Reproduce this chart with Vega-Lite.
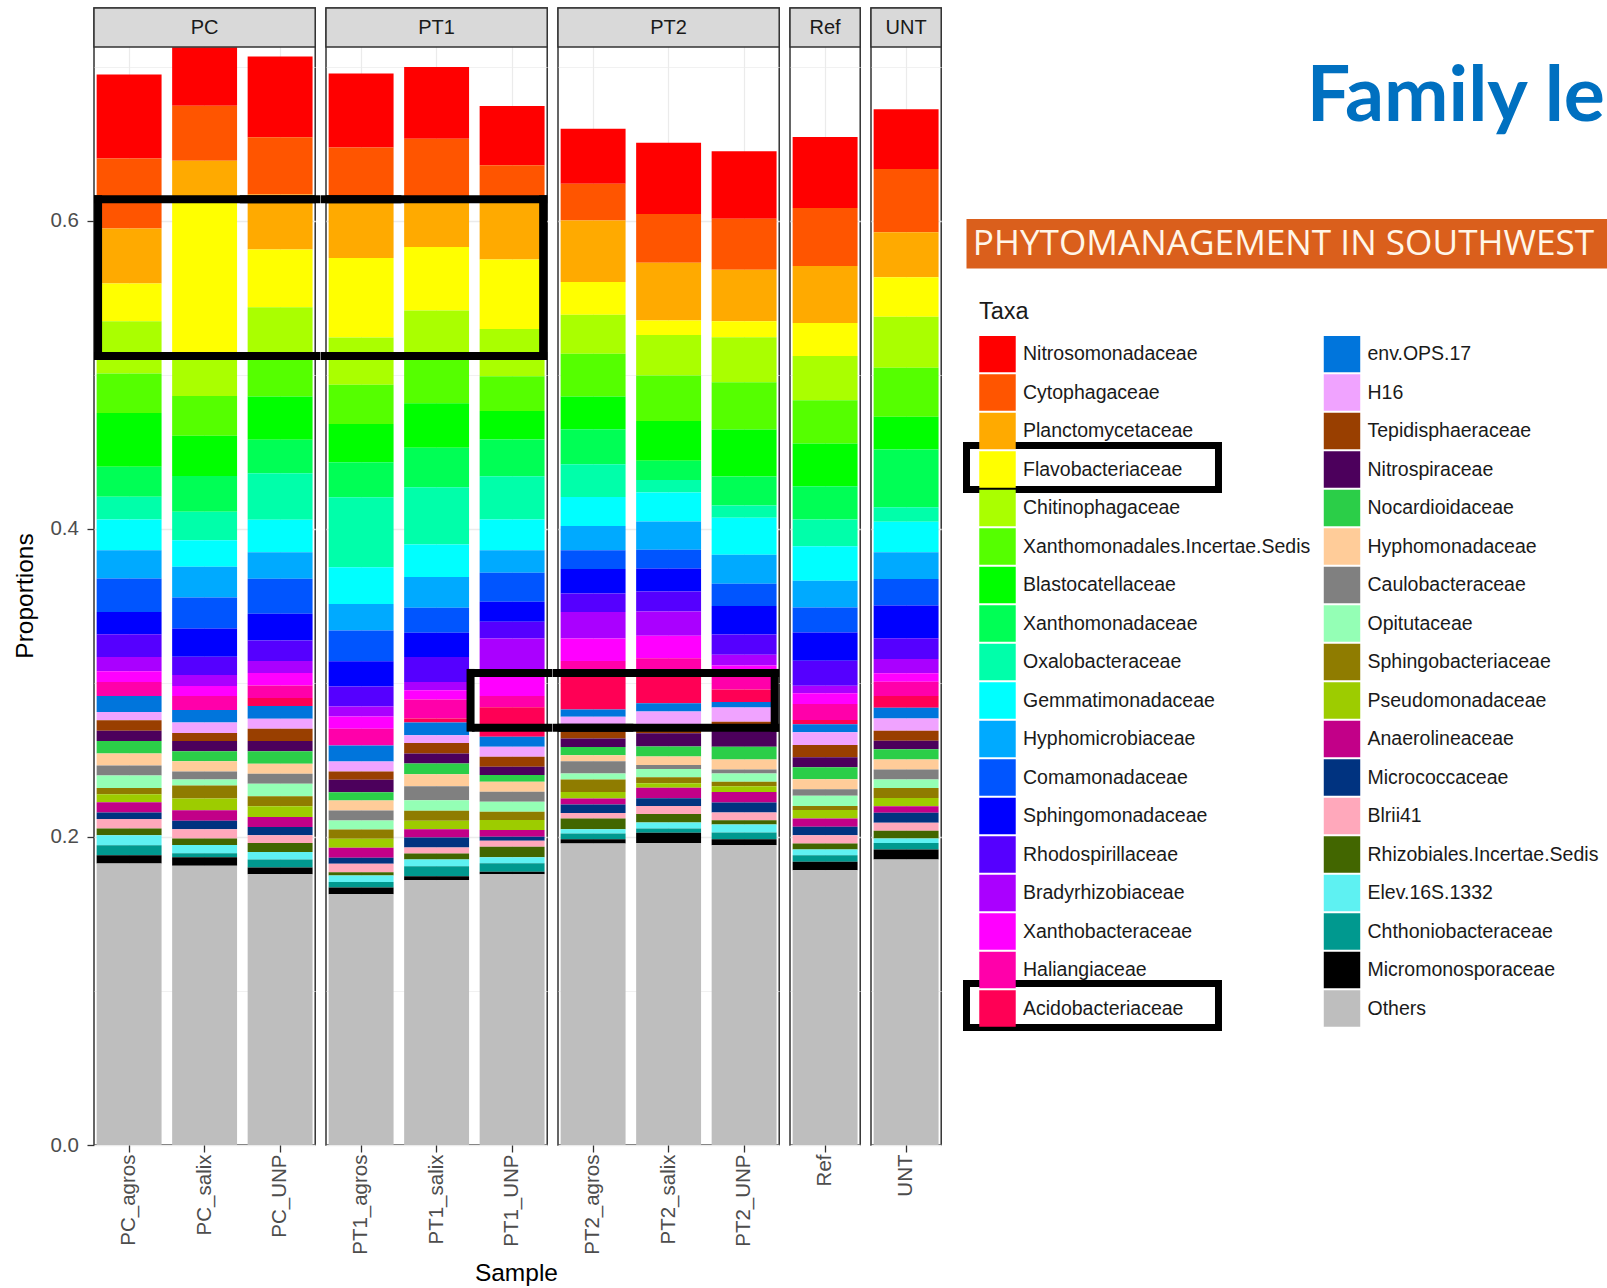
{
"$schema": "https://vega.github.io/schema/vega-lite/v6.json",
"padding": {"left": 12, "top": 6, "right": 0, "bottom": 0},
"autosize": {"type": "pad"},
"title": {"text": "Sample", "orient": "bottom", "anchor": "start", "dx": 462, "offset": 7, "fontSize": 24.5, "font": "Liberation Sans", "fontWeight": "normal", "color": "#000000", "baseline": "top"},
"config": {
 "font": "Liberation Sans",
 "view": {"stroke": "#333333", "strokeWidth": 1.5},
 "axis": {"domain": false, "gridColor": "#EBEBEB", "tickColor": "#333333", "labelColor": "#4D4D4D", "labelFont": "Liberation Sans", "titleFont": "Liberation Sans", "titleFontWeight": "normal", "titleColor": "#000000"},
 "axisX": {"labelAngle": -90, "labelFontSize": 20.5, "tickSize": 7, "labelPadding": 2, "grid": true, "gridWidth": 1.2, "bandPosition": 0.5, "tickWidth": 1.3},
 "axisY": {"labelFontSize": 20.5, "tickSize": 7, "labelPadding": 8.6, "titleFontSize": 24.5, "titlePadding": 12, "tickWidth": 1.3}
},
"datasets": {
 "taxa": [
  {"t":"Nitrosomonadaceae","rank":1},{"t":"Cytophagaceae","rank":2},{"t":"Planctomycetaceae","rank":3},{"t":"Flavobacteriaceae","rank":4},{"t":"Chitinophagaceae","rank":5},{"t":"Xanthomonadales.Incertae.Sedis","rank":6},{"t":"Blastocatellaceae","rank":7},{"t":"Xanthomonadaceae","rank":8},{"t":"Oxalobacteraceae","rank":9},{"t":"Gemmatimonadaceae","rank":10},{"t":"Hyphomicrobiaceae","rank":11},{"t":"Comamonadaceae","rank":12},{"t":"Sphingomonadaceae","rank":13},{"t":"Rhodospirillaceae","rank":14},{"t":"Bradyrhizobiaceae","rank":15},{"t":"Xanthobacteraceae","rank":16},{"t":"Haliangiaceae","rank":17},{"t":"Acidobacteriaceae","rank":18},{"t":"env.OPS.17","rank":19},{"t":"H16","rank":20},{"t":"Tepidisphaeraceae","rank":21},{"t":"Nitrospiraceae","rank":22},{"t":"Nocardioidaceae","rank":23},{"t":"Hyphomonadaceae","rank":24},{"t":"Caulobacteraceae","rank":25},{"t":"Opitutaceae","rank":26},{"t":"Sphingobacteriaceae","rank":27},{"t":"Pseudomonadaceae","rank":28},{"t":"Anaerolineaceae","rank":29},{"t":"Micrococcaceae","rank":30},{"t":"Blrii41","rank":31},{"t":"Rhizobiales.Incertae.Sedis","rank":32},{"t":"Elev.16S.1332","rank":33},{"t":"Chthoniobacteraceae","rank":34},{"t":"Micromonosporaceae","rank":35},{"t":"Others","rank":36}
 ],
 "samples": [
  {"s":"PC_agros","g":"PC"},{"s":"PC_salix","g":"PC"},{"s":"PC_UNP","g":"PC"},{"s":"PT1_agros","g":"PT1"},{"s":"PT1_salix","g":"PT1"},{"s":"PT1_UNP","g":"PT1"},{"s":"PT2_agros","g":"PT2"},{"s":"PT2_salix","g":"PT2"},{"s":"PT2_UNP","g":"PT2"},{"s":"Ref","g":"Ref"},{"s":"UNT","g":"UNT"}
 ],
 "bars": [
{"s":"PC_agros","t":"Nitrosomonadaceae","p":0.0545},{"s":"PC_agros","t":"Cytophagaceae","p":0.0454},{"s":"PC_agros","t":"Planctomycetaceae","p":0.0357},{"s":"PC_agros","t":"Flavobacteriaceae","p":0.0245},{"s":"PC_agros","t":"Chitinophagaceae","p":0.0339},{"s":"PC_agros","t":"Xanthomonadales.Incertae.Sedis","p":0.0256},{"s":"PC_agros","t":"Blastocatellaceae","p":0.0350},{"s":"PC_agros","t":"Xanthomonadaceae","p":0.0195},{"s":"PC_agros","t":"Oxalobacteraceae","p":0.0147},{"s":"PC_agros","t":"Gemmatimonadaceae","p":0.0199},{"s":"PC_agros","t":"Hyphomicrobiaceae","p":0.0184},{"s":"PC_agros","t":"Comamonadaceae","p":0.0217},{"s":"PC_agros","t":"Sphingomonadaceae","p":0.0145},{"s":"PC_agros","t":"Rhodospirillaceae","p":0.0147},{"s":"PC_agros","t":"Bradyrhizobiaceae","p":0.0093},{"s":"PC_agros","t":"Xanthobacteraceae","p":0.0069},{"s":"PC_agros","t":"Haliangiaceae","p":0.0091},{"s":"PC_agros","t":"Acidobacteriaceae","p":0},{"s":"PC_agros","t":"env.OPS.17","p":0.0104},{"s":"PC_agros","t":"H16","p":0.0054},{"s":"PC_agros","t":"Tepidisphaeraceae","p":0.0069},{"s":"PC_agros","t":"Nitrospiraceae","p":0.0065},{"s":"PC_agros","t":"Nocardioidaceae","p":0.0082},{"s":"PC_agros","t":"Hyphomonadaceae","p":0.0078},{"s":"PC_agros","t":"Caulobacteraceae","p":0.0065},{"s":"PC_agros","t":"Opitutaceae","p":0.0080},{"s":"PC_agros","t":"Sphingobacteriaceae","p":0.0041},{"s":"PC_agros","t":"Pseudomonadaceae","p":0.0052},{"s":"PC_agros","t":"Anaerolineaceae","p":0.0067},{"s":"PC_agros","t":"Micrococcaceae","p":0.0042},{"s":"PC_agros","t":"Blrii41","p":0.0062},{"s":"PC_agros","t":"Rhizobiales.Incertae.Sedis","p":0.0043},{"s":"PC_agros","t":"Elev.16S.1332","p":0.0065},{"s":"PC_agros","t":"Chthoniobacteraceae","p":0.0065},{"s":"PC_agros","t":"Micromonosporaceae","p":0.0054},{"s":"PC_agros","t":"Others","p":0.1827},
{"s":"PC_salix","t":"Nitrosomonadaceae","p":0.0379},{"s":"PC_salix","t":"Cytophagaceae","p":0.0357},{"s":"PC_salix","t":"Planctomycetaceae","p":0.0229},{"s":"PC_salix","t":"Flavobacteriaceae","p":0.1021},{"s":"PC_salix","t":"Chitinophagaceae","p":0.0277},{"s":"PC_salix","t":"Xanthomonadales.Incertae.Sedis","p":0.0258},{"s":"PC_salix","t":"Blastocatellaceae","p":0.0262},{"s":"PC_salix","t":"Xanthomonadaceae","p":0.0232},{"s":"PC_salix","t":"Oxalobacteraceae","p":0.0184},{"s":"PC_salix","t":"Gemmatimonadaceae","p":0.0173},{"s":"PC_salix","t":"Hyphomicrobiaceae","p":0.0199},{"s":"PC_salix","t":"Comamonadaceae","p":0.0201},{"s":"PC_salix","t":"Sphingomonadaceae","p":0.0184},{"s":"PC_salix","t":"Rhodospirillaceae","p":0.0119},{"s":"PC_salix","t":"Bradyrhizobiaceae","p":0.0071},{"s":"PC_salix","t":"Xanthobacteraceae","p":0.0065},{"s":"PC_salix","t":"Haliangiaceae","p":0.0091},{"s":"PC_salix","t":"Acidobacteriaceae","p":0},{"s":"PC_salix","t":"env.OPS.17","p":0.0080},{"s":"PC_salix","t":"H16","p":0.0068},{"s":"PC_salix","t":"Tepidisphaeraceae","p":0.0052},{"s":"PC_salix","t":"Nitrospiraceae","p":0.0067},{"s":"PC_salix","t":"Nocardioidaceae","p":0.0065},{"s":"PC_salix","t":"Hyphomonadaceae","p":0.0067},{"s":"PC_salix","t":"Caulobacteraceae","p":0.0052},{"s":"PC_salix","t":"Opitutaceae","p":0.0039},{"s":"PC_salix","t":"Sphingobacteriaceae","p":0.0084},{"s":"PC_salix","t":"Pseudomonadaceae","p":0.0076},{"s":"PC_salix","t":"Anaerolineaceae","p":0.0069},{"s":"PC_salix","t":"Micrococcaceae","p":0.0054},{"s":"PC_salix","t":"Blrii41","p":0.0060},{"s":"PC_salix","t":"Rhizobiales.Incertae.Sedis","p":0.0043},{"s":"PC_salix","t":"Elev.16S.1332","p":0.0054},{"s":"PC_salix","t":"Chthoniobacteraceae","p":0.0026},{"s":"PC_salix","t":"Micromonosporaceae","p":0.0055},{"s":"PC_salix","t":"Others","p":0.1812},
{"s":"PC_UNP","t":"Nitrosomonadaceae","p":0.0524},{"s":"PC_UNP","t":"Cytophagaceae","p":0.0372},{"s":"PC_UNP","t":"Planctomycetaceae","p":0.0357},{"s":"PC_UNP","t":"Flavobacteriaceae","p":0.0374},{"s":"PC_UNP","t":"Chitinophagaceae","p":0.0320},{"s":"PC_UNP","t":"Xanthomonadales.Incertae.Sedis","p":0.0260},{"s":"PC_UNP","t":"Blastocatellaceae","p":0.0281},{"s":"PC_UNP","t":"Xanthomonadaceae","p":0.0217},{"s":"PC_UNP","t":"Oxalobacteraceae","p":0.0302},{"s":"PC_UNP","t":"Gemmatimonadaceae","p":0.0210},{"s":"PC_UNP","t":"Hyphomicrobiaceae","p":0.0173},{"s":"PC_UNP","t":"Comamonadaceae","p":0.0227},{"s":"PC_UNP","t":"Sphingomonadaceae","p":0.0173},{"s":"PC_UNP","t":"Rhodospirillaceae","p":0.0134},{"s":"PC_UNP","t":"Bradyrhizobiaceae","p":0.0078},{"s":"PC_UNP","t":"Xanthobacteraceae","p":0.0080},{"s":"PC_UNP","t":"Haliangiaceae","p":0.0082},{"s":"PC_UNP","t":"Acidobacteriaceae","p":0.0052},{"s":"PC_UNP","t":"env.OPS.17","p":0.0082},{"s":"PC_UNP","t":"H16","p":0.0065},{"s":"PC_UNP","t":"Tepidisphaeraceae","p":0.0080},{"s":"PC_UNP","t":"Nitrospiraceae","p":0.0067},{"s":"PC_UNP","t":"Nocardioidaceae","p":0.0080},{"s":"PC_UNP","t":"Hyphomonadaceae","p":0.0065},{"s":"PC_UNP","t":"Caulobacteraceae","p":0.0065},{"s":"PC_UNP","t":"Opitutaceae","p":0.0082},{"s":"PC_UNP","t":"Sphingobacteriaceae","p":0.0065},{"s":"PC_UNP","t":"Pseudomonadaceae","p":0.0069},{"s":"PC_UNP","t":"Anaerolineaceae","p":0.0065},{"s":"PC_UNP","t":"Micrococcaceae","p":0.0054},{"s":"PC_UNP","t":"Blrii41","p":0.0050},{"s":"PC_UNP","t":"Rhizobiales.Incertae.Sedis","p":0.0058},{"s":"PC_UNP","t":"Elev.16S.1332","p":0.0049},{"s":"PC_UNP","t":"Chthoniobacteraceae","p":0.0052},{"s":"PC_UNP","t":"Micromonosporaceae","p":0.0043},{"s":"PC_UNP","t":"Others","p":0.1758},
{"s":"PT1_agros","t":"Nitrosomonadaceae","p":0.0480},{"s":"PT1_agros","t":"Cytophagaceae","p":0.0357},{"s":"PT1_agros","t":"Planctomycetaceae","p":0.0361},{"s":"PT1_agros","t":"Flavobacteriaceae","p":0.0515},{"s":"PT1_agros","t":"Chitinophagaceae","p":0.0307},{"s":"PT1_agros","t":"Xanthomonadales.Incertae.Sedis","p":0.0255},{"s":"PT1_agros","t":"Blastocatellaceae","p":0.0249},{"s":"PT1_agros","t":"Xanthomonadaceae","p":0.0227},{"s":"PT1_agros","t":"Oxalobacteraceae","p":0.0454},{"s":"PT1_agros","t":"Gemmatimonadaceae","p":0.0238},{"s":"PT1_agros","t":"Hyphomicrobiaceae","p":0.0173},{"s":"PT1_agros","t":"Comamonadaceae","p":0.0199},{"s":"PT1_agros","t":"Sphingomonadaceae","p":0.0164},{"s":"PT1_agros","t":"Rhodospirillaceae","p":0.0130},{"s":"PT1_agros","t":"Bradyrhizobiaceae","p":0.0065},{"s":"PT1_agros","t":"Xanthobacteraceae","p":0.0080},{"s":"PT1_agros","t":"Haliangiaceae","p":0.0108},{"s":"PT1_agros","t":"Acidobacteriaceae","p":0},{"s":"PT1_agros","t":"env.OPS.17","p":0.0104},{"s":"PT1_agros","t":"H16","p":0.0065},{"s":"PT1_agros","t":"Tepidisphaeraceae","p":0.0054},{"s":"PT1_agros","t":"Nitrospiraceae","p":0.0080},{"s":"PT1_agros","t":"Nocardioidaceae","p":0.0054},{"s":"PT1_agros","t":"Hyphomonadaceae","p":0.0065},{"s":"PT1_agros","t":"Caulobacteraceae","p":0.0065},{"s":"PT1_agros","t":"Opitutaceae","p":0.0058},{"s":"PT1_agros","t":"Sphingobacteriaceae","p":0.0060},{"s":"PT1_agros","t":"Pseudomonadaceae","p":0.0058},{"s":"PT1_agros","t":"Anaerolineaceae","p":0.0065},{"s":"PT1_agros","t":"Micrococcaceae","p":0.0039},{"s":"PT1_agros","t":"Blrii41","p":0.0055},{"s":"PT1_agros","t":"Rhizobiales.Incertae.Sedis","p":0.0021},{"s":"PT1_agros","t":"Elev.16S.1332","p":0.0043},{"s":"PT1_agros","t":"Chthoniobacteraceae","p":0.0036},{"s":"PT1_agros","t":"Micromonosporaceae","p":0.0043},{"s":"PT1_agros","t":"Others","p":0.1628},
{"s":"PT1_salix","t":"Nitrosomonadaceae","p":0.0465},{"s":"PT1_salix","t":"Cytophagaceae","p":0.0412},{"s":"PT1_salix","t":"Planctomycetaceae","p":0.0292},{"s":"PT1_salix","t":"Flavobacteriaceae","p":0.0411},{"s":"PT1_salix","t":"Chitinophagaceae","p":0.0292},{"s":"PT1_salix","t":"Xanthomonadales.Incertae.Sedis","p":0.0310},{"s":"PT1_salix","t":"Blastocatellaceae","p":0.0289},{"s":"PT1_salix","t":"Xanthomonadaceae","p":0.0256},{"s":"PT1_salix","t":"Oxalobacteraceae","p":0.0372},{"s":"PT1_salix","t":"Gemmatimonadaceae","p":0.0212},{"s":"PT1_salix","t":"Hyphomicrobiaceae","p":0.0199},{"s":"PT1_salix","t":"Comamonadaceae","p":0.0162},{"s":"PT1_salix","t":"Sphingomonadaceae","p":0.0158},{"s":"PT1_salix","t":"Rhodospirillaceae","p":0.0162},{"s":"PT1_salix","t":"Bradyrhizobiaceae","p":0.0054},{"s":"PT1_salix","t":"Xanthobacteraceae","p":0.0060},{"s":"PT1_salix","t":"Haliangiaceae","p":0.0123},{"s":"PT1_salix","t":"Acidobacteriaceae","p":0.0026},{"s":"PT1_salix","t":"env.OPS.17","p":0.0082},{"s":"PT1_salix","t":"H16","p":0.0050},{"s":"PT1_salix","t":"Tepidisphaeraceae","p":0.0069},{"s":"PT1_salix","t":"Nitrospiraceae","p":0.0065},{"s":"PT1_salix","t":"Nocardioidaceae","p":0.0069},{"s":"PT1_salix","t":"Hyphomonadaceae","p":0.0078},{"s":"PT1_salix","t":"Caulobacteraceae","p":0.0091},{"s":"PT1_salix","t":"Opitutaceae","p":0.0069},{"s":"PT1_salix","t":"Sphingobacteriaceae","p":0.0065},{"s":"PT1_salix","t":"Pseudomonadaceae","p":0.0054},{"s":"PT1_salix","t":"Anaerolineaceae","p":0.0054},{"s":"PT1_salix","t":"Micrococcaceae","p":0.0065},{"s":"PT1_salix","t":"Blrii41","p":0.0039},{"s":"PT1_salix","t":"Rhizobiales.Incertae.Sedis","p":0.0039},{"s":"PT1_salix","t":"Elev.16S.1332","p":0.0043},{"s":"PT1_salix","t":"Chthoniobacteraceae","p":0.0065},{"s":"PT1_salix","t":"Micromonosporaceae","p":0.0026},{"s":"PT1_salix","t":"Others","p":0.1719},
{"s":"PT1_UNP","t":"Nitrosomonadaceae","p":0.0385},{"s":"PT1_UNP","t":"Cytophagaceae","p":0.0232},{"s":"PT1_UNP","t":"Planctomycetaceae","p":0.0380},{"s":"PT1_UNP","t":"Flavobacteriaceae","p":0.0450},{"s":"PT1_UNP","t":"Chitinophagaceae","p":0.0307},{"s":"PT1_UNP","t":"Xanthomonadales.Incertae.Sedis","p":0.0225},{"s":"PT1_UNP","t":"Blastocatellaceae","p":0.0186},{"s":"PT1_UNP","t":"Xanthomonadaceae","p":0.0238},{"s":"PT1_UNP","t":"Oxalobacteraceae","p":0.0281},{"s":"PT1_UNP","t":"Gemmatimonadaceae","p":0.0199},{"s":"PT1_UNP","t":"Hyphomicrobiaceae","p":0.0147},{"s":"PT1_UNP","t":"Comamonadaceae","p":0.0188},{"s":"PT1_UNP","t":"Sphingomonadaceae","p":0.0130},{"s":"PT1_UNP","t":"Rhodospirillaceae","p":0.0108},{"s":"PT1_UNP","t":"Bradyrhizobiaceae","p":0.0223},{"s":"PT1_UNP","t":"Xanthobacteraceae","p":0.0151},{"s":"PT1_UNP","t":"Haliangiaceae","p":0.0073},{"s":"PT1_UNP","t":"Acidobacteriaceae","p":0.0191},{"s":"PT1_UNP","t":"env.OPS.17","p":0.0065},{"s":"PT1_UNP","t":"H16","p":0.0065},{"s":"PT1_UNP","t":"Tepidisphaeraceae","p":0.0065},{"s":"PT1_UNP","t":"Nitrospiraceae","p":0.0054},{"s":"PT1_UNP","t":"Nocardioidaceae","p":0.0043},{"s":"PT1_UNP","t":"Hyphomonadaceae","p":0.0065},{"s":"PT1_UNP","t":"Caulobacteraceae","p":0.0065},{"s":"PT1_UNP","t":"Opitutaceae","p":0.0065},{"s":"PT1_UNP","t":"Sphingobacteriaceae","p":0.0054},{"s":"PT1_UNP","t":"Pseudomonadaceae","p":0.0065},{"s":"PT1_UNP","t":"Anaerolineaceae","p":0.0043},{"s":"PT1_UNP","t":"Micrococcaceae","p":0.0026},{"s":"PT1_UNP","t":"Blrii41","p":0.0039},{"s":"PT1_UNP","t":"Rhizobiales.Incertae.Sedis","p":0.0069},{"s":"PT1_UNP","t":"Elev.16S.1332","p":0.0039},{"s":"PT1_UNP","t":"Chthoniobacteraceae","p":0.0055},{"s":"PT1_UNP","t":"Micromonosporaceae","p":0.0015},{"s":"PT1_UNP","t":"Others","p":0.1758},
{"s":"PT2_agros","t":"Nitrosomonadaceae","p":0.0357},{"s":"PT2_agros","t":"Cytophagaceae","p":0.0238},{"s":"PT2_agros","t":"Planctomycetaceae","p":0.0400},{"s":"PT2_agros","t":"Flavobacteriaceae","p":0.0212},{"s":"PT2_agros","t":"Chitinophagaceae","p":0.0253},{"s":"PT2_agros","t":"Xanthomonadales.Incertae.Sedis","p":0.0277},{"s":"PT2_agros","t":"Blastocatellaceae","p":0.0214},{"s":"PT2_agros","t":"Xanthomonadaceae","p":0.0227},{"s":"PT2_agros","t":"Oxalobacteraceae","p":0.0212},{"s":"PT2_agros","t":"Gemmatimonadaceae","p":0.0188},{"s":"PT2_agros","t":"Hyphomicrobiaceae","p":0.0158},{"s":"PT2_agros","t":"Comamonadaceae","p":0.0121},{"s":"PT2_agros","t":"Sphingomonadaceae","p":0.0160},{"s":"PT2_agros","t":"Rhodospirillaceae","p":0.0119},{"s":"PT2_agros","t":"Bradyrhizobiaceae","p":0.0173},{"s":"PT2_agros","t":"Xanthobacteraceae","p":0.0145},{"s":"PT2_agros","t":"Haliangiaceae","p":0.0071},{"s":"PT2_agros","t":"Acidobacteriaceae","p":0.0244},{"s":"PT2_agros","t":"env.OPS.17","p":0.0048},{"s":"PT2_agros","t":"H16","p":0.0065},{"s":"PT2_agros","t":"Tepidisphaeraceae","p":0.0075},{"s":"PT2_agros","t":"Nitrospiraceae","p":0.0055},{"s":"PT2_agros","t":"Nocardioidaceae","p":0.0054},{"s":"PT2_agros","t":"Hyphomonadaceae","p":0.0039},{"s":"PT2_agros","t":"Caulobacteraceae","p":0.0080},{"s":"PT2_agros","t":"Opitutaceae","p":0.0039},{"s":"PT2_agros","t":"Sphingobacteriaceae","p":0.0080},{"s":"PT2_agros","t":"Pseudomonadaceae","p":0.0043},{"s":"PT2_agros","t":"Anaerolineaceae","p":0.0039},{"s":"PT2_agros","t":"Micrococcaceae","p":0.0055},{"s":"PT2_agros","t":"Blrii41","p":0.0036},{"s":"PT2_agros","t":"Rhizobiales.Incertae.Sedis","p":0.0069},{"s":"PT2_agros","t":"Elev.16S.1332","p":0.0028},{"s":"PT2_agros","t":"Chthoniobacteraceae","p":0.0037},{"s":"PT2_agros","t":"Micromonosporaceae","p":0.0028},{"s":"PT2_agros","t":"Others","p":0.1957},
{"s":"PT2_salix","t":"Nitrosomonadaceae","p":0.0463},{"s":"PT2_salix","t":"Cytophagaceae","p":0.0316},{"s":"PT2_salix","t":"Planctomycetaceae","p":0.0376},{"s":"PT2_salix","t":"Flavobacteriaceae","p":0.0093},{"s":"PT2_salix","t":"Chitinophagaceae","p":0.0264},{"s":"PT2_salix","t":"Xanthomonadales.Incertae.Sedis","p":0.0294},{"s":"PT2_salix","t":"Blastocatellaceae","p":0.0258},{"s":"PT2_salix","t":"Xanthomonadaceae","p":0.0125},{"s":"PT2_salix","t":"Oxalobacteraceae","p":0.0082},{"s":"PT2_salix","t":"Gemmatimonadaceae","p":0.0188},{"s":"PT2_salix","t":"Hyphomicrobiaceae","p":0.0184},{"s":"PT2_salix","t":"Comamonadaceae","p":0.0121},{"s":"PT2_salix","t":"Sphingomonadaceae","p":0.0149},{"s":"PT2_salix","t":"Rhodospirillaceae","p":0.0130},{"s":"PT2_salix","t":"Bradyrhizobiaceae","p":0.0158},{"s":"PT2_salix","t":"Xanthobacteraceae","p":0.0145},{"s":"PT2_salix","t":"Haliangiaceae","p":0.0082},{"s":"PT2_salix","t":"Acidobacteriaceae","p":0.0210},{"s":"PT2_salix","t":"env.OPS.17","p":0.0055},{"s":"PT2_salix","t":"H16","p":0.0080},{"s":"PT2_salix","t":"Tepidisphaeraceae","p":0.0060},{"s":"PT2_salix","t":"Nitrospiraceae","p":0.0087},{"s":"PT2_salix","t":"Nocardioidaceae","p":0.0065},{"s":"PT2_salix","t":"Hyphomonadaceae","p":0.0054},{"s":"PT2_salix","t":"Caulobacteraceae","p":0.0026},{"s":"PT2_salix","t":"Opitutaceae","p":0.0054},{"s":"PT2_salix","t":"Sphingobacteriaceae","p":0.0039},{"s":"PT2_salix","t":"Pseudomonadaceae","p":0.0029},{"s":"PT2_salix","t":"Anaerolineaceae","p":0.0069},{"s":"PT2_salix","t":"Micrococcaceae","p":0.0050},{"s":"PT2_salix","t":"Blrii41","p":0.0052},{"s":"PT2_salix","t":"Rhizobiales.Incertae.Sedis","p":0.0054},{"s":"PT2_salix","t":"Elev.16S.1332","p":0.0039},{"s":"PT2_salix","t":"Chthoniobacteraceae","p":0.0029},{"s":"PT2_salix","t":"Micromonosporaceae","p":0.0065},{"s":"PT2_salix","t":"Others","p":0.1961},
{"s":"PT2_UNP","t":"Nitrosomonadaceae","p":0.0439},{"s":"PT2_UNP","t":"Cytophagaceae","p":0.0331},{"s":"PT2_UNP","t":"Planctomycetaceae","p":0.0334},{"s":"PT2_UNP","t":"Flavobacteriaceae","p":0.0104},{"s":"PT2_UNP","t":"Chitinophagaceae","p":0.0292},{"s":"PT2_UNP","t":"Xanthomonadales.Incertae.Sedis","p":0.0307},{"s":"PT2_UNP","t":"Blastocatellaceae","p":0.0305},{"s":"PT2_UNP","t":"Xanthomonadaceae","p":0.0188},{"s":"PT2_UNP","t":"Oxalobacteraceae","p":0.0080},{"s":"PT2_UNP","t":"Gemmatimonadaceae","p":0.0240},{"s":"PT2_UNP","t":"Hyphomicrobiaceae","p":0.0188},{"s":"PT2_UNP","t":"Comamonadaceae","p":0.0145},{"s":"PT2_UNP","t":"Sphingomonadaceae","p":0.0184},{"s":"PT2_UNP","t":"Rhodospirillaceae","p":0.0132},{"s":"PT2_UNP","t":"Bradyrhizobiaceae","p":0.0069},{"s":"PT2_UNP","t":"Xanthobacteraceae","p":0.0043},{"s":"PT2_UNP","t":"Haliangiaceae","p":0.0114},{"s":"PT2_UNP","t":"Acidobacteriaceae","p":0.0080},{"s":"PT2_UNP","t":"env.OPS.17","p":0.0036},{"s":"PT2_UNP","t":"H16","p":0.0093},{"s":"PT2_UNP","t":"Tepidisphaeraceae","p":0.0054},{"s":"PT2_UNP","t":"Nitrospiraceae","p":0.0108},{"s":"PT2_UNP","t":"Nocardioidaceae","p":0.0082},{"s":"PT2_UNP","t":"Hyphomonadaceae","p":0.0065},{"s":"PT2_UNP","t":"Caulobacteraceae","p":0.0026},{"s":"PT2_UNP","t":"Opitutaceae","p":0.0055},{"s":"PT2_UNP","t":"Sphingobacteriaceae","p":0.0028},{"s":"PT2_UNP","t":"Pseudomonadaceae","p":0.0037},{"s":"PT2_UNP","t":"Anaerolineaceae","p":0.0069},{"s":"PT2_UNP","t":"Micrococcaceae","p":0.0065},{"s":"PT2_UNP","t":"Blrii41","p":0.0050},{"s":"PT2_UNP","t":"Rhizobiales.Incertae.Sedis","p":0.0028},{"s":"PT2_UNP","t":"Elev.16S.1332","p":0.0052},{"s":"PT2_UNP","t":"Chthoniobacteraceae","p":0.0043},{"s":"PT2_UNP","t":"Micromonosporaceae","p":0.0039},{"s":"PT2_UNP","t":"Others","p":0.1946},
{"s":"Ref","t":"Nitrosomonadaceae","p":0.0461},{"s":"Ref","t":"Cytophagaceae","p":0.0376},{"s":"Ref","t":"Planctomycetaceae","p":0.0370},{"s":"Ref","t":"Flavobacteriaceae","p":0.0214},{"s":"Ref","t":"Chitinophagaceae","p":0.0288},{"s":"Ref","t":"Xanthomonadales.Incertae.Sedis","p":0.0281},{"s":"Ref","t":"Blastocatellaceae","p":0.0277},{"s":"Ref","t":"Xanthomonadaceae","p":0.0216},{"s":"Ref","t":"Oxalobacteraceae","p":0.0173},{"s":"Ref","t":"Gemmatimonadaceae","p":0.0225},{"s":"Ref","t":"Hyphomicrobiaceae","p":0.0173},{"s":"Ref","t":"Comamonadaceae","p":0.0162},{"s":"Ref","t":"Sphingomonadaceae","p":0.0184},{"s":"Ref","t":"Rhodospirillaceae","p":0.0162},{"s":"Ref","t":"Bradyrhizobiaceae","p":0.0049},{"s":"Ref","t":"Xanthobacteraceae","p":0.0069},{"s":"Ref","t":"Haliangiaceae","p":0.0104},{"s":"Ref","t":"Acidobacteriaceae","p":0.0028},{"s":"Ref","t":"env.OPS.17","p":0.0052},{"s":"Ref","t":"H16","p":0.0082},{"s":"Ref","t":"Tepidisphaeraceae","p":0.0080},{"s":"Ref","t":"Nitrospiraceae","p":0.0065},{"s":"Ref","t":"Nocardioidaceae","p":0.0078},{"s":"Ref","t":"Hyphomonadaceae","p":0.0065},{"s":"Ref","t":"Caulobacteraceae","p":0.0042},{"s":"Ref","t":"Opitutaceae","p":0.0067},{"s":"Ref","t":"Sphingobacteriaceae","p":0.0026},{"s":"Ref","t":"Pseudomonadaceae","p":0.0054},{"s":"Ref","t":"Anaerolineaceae","p":0.0055},{"s":"Ref","t":"Micrococcaceae","p":0.0054},{"s":"Ref","t":"Blrii41","p":0.0054},{"s":"Ref","t":"Rhizobiales.Incertae.Sedis","p":0.0039},{"s":"Ref","t":"Elev.16S.1332","p":0.0037},{"s":"Ref","t":"Chthoniobacteraceae","p":0.0043},{"s":"Ref","t":"Micromonosporaceae","p":0.0054},{"s":"Ref","t":"Others","p":0.1784},
{"s":"UNT","t":"Nitrosomonadaceae","p":0.0387},{"s":"UNT","t":"Cytophagaceae","p":0.0411},{"s":"UNT","t":"Planctomycetaceae","p":0.0292},{"s":"UNT","t":"Flavobacteriaceae","p":0.0256},{"s":"UNT","t":"Chitinophagaceae","p":0.0331},{"s":"UNT","t":"Xanthomonadales.Incertae.Sedis","p":0.0318},{"s":"UNT","t":"Blastocatellaceae","p":0.0212},{"s":"UNT","t":"Xanthomonadaceae","p":0.0376},{"s":"UNT","t":"Oxalobacteraceae","p":0.0093},{"s":"UNT","t":"Gemmatimonadaceae","p":0.0199},{"s":"UNT","t":"Hyphomicrobiaceae","p":0.0173},{"s":"UNT","t":"Comamonadaceae","p":0.0173},{"s":"UNT","t":"Sphingomonadaceae","p":0.0212},{"s":"UNT","t":"Rhodospirillaceae","p":0.0134},{"s":"UNT","t":"Bradyrhizobiaceae","p":0.0093},{"s":"UNT","t":"Xanthobacteraceae","p":0.0055},{"s":"UNT","t":"Haliangiaceae","p":0.0093},{"s":"UNT","t":"Acidobacteriaceae","p":0.0076},{"s":"UNT","t":"env.OPS.17","p":0.0069},{"s":"UNT","t":"H16","p":0.0080},{"s":"UNT","t":"Tepidisphaeraceae","p":0.0065},{"s":"UNT","t":"Nitrospiraceae","p":0.0056},{"s":"UNT","t":"Nocardioidaceae","p":0.0065},{"s":"UNT","t":"Hyphomonadaceae","p":0.0065},{"s":"UNT","t":"Caulobacteraceae","p":0.0065},{"s":"UNT","t":"Opitutaceae","p":0.0055},{"s":"UNT","t":"Sphingobacteriaceae","p":0.0065},{"s":"UNT","t":"Pseudomonadaceae","p":0.0054},{"s":"UNT","t":"Anaerolineaceae","p":0.0043},{"s":"UNT","t":"Micrococcaceae","p":0.0065},{"s":"UNT","t":"Blrii41","p":0.0052},{"s":"UNT","t":"Rhizobiales.Incertae.Sedis","p":0.0049},{"s":"UNT","t":"Elev.16S.1332","p":0.0029},{"s":"UNT","t":"Chthoniobacteraceae","p":0.0043},{"s":"UNT","t":"Micromonosporaceae","p":0.0065},{"s":"UNT","t":"Others","p":0.1853}
 ]
},
"spacing": 19.5,
"resolve": {"scale": {"x": "independent", "y": "independent"}},
"hconcat": [
 {
  "data": {"name": "bars"},
  "transform": [
   {"lookup": "t", "from": {"data": {"name": "taxa"}, "key": "t", "fields": ["rank"]}},
   {"lookup": "s", "from": {"data": {"name": "samples"}, "key": "s", "fields": ["g"]}}
  ],
  "facet": {"column": {"field": "g", "type": "nominal", "sort": ["PC","PT1","PT2","Ref","UNT"], "title": null, "header": {"labels": false}}},
  "spacing": 10,
  "bounds": "flush",
  "resolve": {"scale": {"x": "independent"}},
  "spec": {
   "width": {"step": 75.5},
   "height": 1137,
   "layer": [
    {"mark": {"type": "bar"},
     "encoding": {
      "x": {"field": "s", "type": "nominal", "sort": ["PC_agros","PC_salix","PC_UNP","PT1_agros","PT1_salix","PT1_UNP","PT2_agros","PT2_salix","PT2_UNP","Ref","UNT"], "scale": {"type": "band", "paddingInner": 0.14, "paddingOuter": 0.035}, "title": null},
      "y": {"field": "p", "type": "quantitative", "stack": "zero", "scale": {"domain": [0, 0.738], "nice": false},
       "axis": {"title": "Proportions", "values": [0,0.1,0.2,0.3,0.4,0.5,0.6,0.7], "labelExpr": "round(datum.value*10) % 2 == 0 ? format(datum.value, '.1f') : ''", "tickOpacity": {"condition": {"test": "round(datum.value*10) % 2 == 1", "value": 0}, "value": 1}, "gridWidth": {"condition": {"test": "round(datum.value*10) % 2 == 1", "value": 0.7}, "value": 1.4}, "titleY": 587.5}},
      "color": {"field": "t", "type": "nominal",
       "scale": {
        "domain": ["Nitrosomonadaceae","Cytophagaceae","Planctomycetaceae","Flavobacteriaceae","Chitinophagaceae","Xanthomonadales.Incertae.Sedis","Blastocatellaceae","Xanthomonadaceae","Oxalobacteraceae","Gemmatimonadaceae","Hyphomicrobiaceae","Comamonadaceae","Sphingomonadaceae","Rhodospirillaceae","Bradyrhizobiaceae","Xanthobacteraceae","Haliangiaceae","Acidobacteriaceae","env.OPS.17","H16","Tepidisphaeraceae","Nitrospiraceae","Nocardioidaceae","Hyphomonadaceae","Caulobacteraceae","Opitutaceae","Sphingobacteriaceae","Pseudomonadaceae","Anaerolineaceae","Micrococcaceae","Blrii41","Rhizobiales.Incertae.Sedis","Elev.16S.1332","Chthoniobacteraceae","Micromonosporaceae","Others"],
        "range": ["#FF0000","#FF5500","#FFAA00","#FFFF00","#AAFF00","#55FF00","#00FF00","#00FF55","#00FFAA","#00FFFF","#00AAFF","#0055FF","#0000FF","#5500FF","#AA00FF","#FF00FF","#FF00AA","#FF0055","#0075DC","#F0A3FF","#993F00","#4C005C","#2BCE48","#FFCC99","#808080","#94FFB5","#8F7C00","#9DCC00","#C20088","#003380","#FFA8BB","#426600","#5EF1F2","#00998F","#000000","#BEBEBE"]},
       "legend": {"title": "Taxa", "orient": "none", "legendX": 885, "legendY": 292, "columns": 2, "symbolLimit": 50, "symbolType": "square", "symbolSize": 1330, "symbolStrokeWidth": 0, "symbolOpacity": 1, "labelFont": "Liberation Sans", "labelFontSize": 19.5, "labelColor": "#1A1A1A", "labelOffset": 7, "labelLimit": 400, "titleFont": "Liberation Sans", "titleFontSize": 23.5, "titleFontWeight": "normal", "titleColor": "#1A1A1A", "titlePadding": 12, "rowPadding": 1.5, "columnPadding": 12.5}},
      "order": {"field": "rank", "type": "quantitative", "sort": "descending"}
     }},
    {"transform": [{"filter": "datum.t == 'Others' && indexof(['PC_salix','PT1_salix','PT2_salix','Ref','UNT'], datum.s) >= 0"}],
     "mark": {"type": "rect", "fill": "#D9D9D9", "stroke": "#333333", "strokeWidth": 1.5},
     "encoding": {"y": {"datum": 0.7127, "type": "quantitative"}, "y2": {"datum": 0.738}}},
    {"transform": [{"filter": "datum.t == 'Others' && indexof(['PC_salix','PT1_salix','PT2_salix','Ref','UNT'], datum.s) >= 0"}],
     "mark": {"type": "text", "fontSize": 20, "color": "#1A1A1A", "baseline": "middle", "align": "center", "font": "Liberation Sans"},
     "encoding": {
      "x": {"field": "s", "type": "nominal", "sort": ["PC_agros","PC_salix","PC_UNP","PT1_agros","PT1_salix","PT1_UNP","PT2_agros","PT2_salix","PT2_UNP","Ref","UNT"], "scale": {"type": "band", "paddingInner": 0.14, "paddingOuter": 0.035}, "title": null},
      "y": {"datum": 0.7253, "type": "quantitative"}, "text": {"field": "g"}}},
    {"transform": [{"filter": "datum.t == 'Others' && (datum.s == 'PC_salix' || datum.s == 'PT1_salix')"}],
     "mark": {"type": "rect", "color": "#000000"},
     "encoding": {"y": {"datum": 0.6113, "type": "quantitative"}, "y2": {"datum": 0.6165}}},
    {"transform": [{"filter": "datum.t == 'Others' && (datum.s == 'PC_salix' || datum.s == 'PT1_salix')"}],
     "mark": {"type": "rect", "color": "#000000"},
     "encoding": {"y": {"datum": 0.5095, "type": "quantitative"}, "y2": {"datum": 0.5147}}},
    {"transform": [{"filter": "datum.t == 'Others' && (datum.s == 'PC_UNP' || datum.s == 'PT1_agros')"}],
     "mark": {"type": "bar", "color": "#000000", "width": {"band": 1.24}},
     "encoding": {
      "x": {"field": "s", "type": "nominal", "sort": ["PC_agros","PC_salix","PC_UNP","PT1_agros","PT1_salix","PT1_UNP","PT2_agros","PT2_salix","PT2_UNP","Ref","UNT"], "scale": {"type": "band", "paddingInner": 0.14, "paddingOuter": 0.035}, "title": null},
      "y": {"datum": 0.6113, "type": "quantitative"}, "y2": {"datum": 0.6165}}},
    {"transform": [{"filter": "datum.t == 'Others' && (datum.s == 'PC_UNP' || datum.s == 'PT1_agros')"}],
     "mark": {"type": "bar", "color": "#000000", "width": {"band": 1.24}},
     "encoding": {
      "x": {"field": "s", "type": "nominal", "sort": ["PC_agros","PC_salix","PC_UNP","PT1_agros","PT1_salix","PT1_UNP","PT2_agros","PT2_salix","PT2_UNP","Ref","UNT"], "scale": {"type": "band", "paddingInner": 0.14, "paddingOuter": 0.035}, "title": null},
      "y": {"datum": 0.5095, "type": "quantitative"}, "y2": {"datum": 0.5147}}},
    {"transform": [{"filter": "datum.t == 'Others' && datum.s == 'PC_agros'"}],
     "mark": {"type": "rule", "color": "#000000", "strokeWidth": 8},
     "encoding": {
      "x": {"field": "s", "type": "nominal", "bandPosition": 0.022, "sort": ["PC_agros","PC_salix","PC_UNP","PT1_agros","PT1_salix","PT1_UNP","PT2_agros","PT2_salix","PT2_UNP","Ref","UNT"], "scale": {"type": "band", "paddingInner": 0.14, "paddingOuter": 0.035}, "title": null},
      "y": {"datum": 0.5095, "type": "quantitative"}, "y2": {"datum": 0.6165}}},
    {"transform": [{"filter": "datum.t == 'Others' && datum.s == 'PT1_UNP'"}],
     "mark": {"type": "rule", "color": "#000000", "strokeWidth": 8},
     "encoding": {
      "x": {"field": "s", "type": "nominal", "bandPosition": 0.978, "sort": ["PC_agros","PC_salix","PC_UNP","PT1_agros","PT1_salix","PT1_UNP","PT2_agros","PT2_salix","PT2_UNP","Ref","UNT"], "scale": {"type": "band", "paddingInner": 0.14, "paddingOuter": 0.035}, "title": null},
      "y": {"datum": 0.5095, "type": "quantitative"}, "y2": {"datum": 0.6165}}},
    {"transform": [{"filter": "datum.t == 'Others' && datum.s == 'PT2_salix'"}],
     "mark": {"type": "rect", "color": "#000000"},
     "encoding": {"y": {"datum": 0.3038, "type": "quantitative"}, "y2": {"datum": 0.3090}}},
    {"transform": [{"filter": "datum.t == 'Others' && datum.s == 'PT2_salix'"}],
     "mark": {"type": "rect", "color": "#000000"},
     "encoding": {"y": {"datum": 0.2683, "type": "quantitative"}, "y2": {"datum": 0.2735}}},
    {"transform": [{"filter": "datum.t == 'Others' && (datum.s == 'PT1_UNP' || datum.s == 'PT2_agros')"}],
     "mark": {"type": "bar", "color": "#000000", "width": {"band": 1.24}},
     "encoding": {
      "x": {"field": "s", "type": "nominal", "sort": ["PC_agros","PC_salix","PC_UNP","PT1_agros","PT1_salix","PT1_UNP","PT2_agros","PT2_salix","PT2_UNP","Ref","UNT"], "scale": {"type": "band", "paddingInner": 0.14, "paddingOuter": 0.035}, "title": null},
      "y": {"datum": 0.3038, "type": "quantitative"}, "y2": {"datum": 0.3090}}},
    {"transform": [{"filter": "datum.t == 'Others' && (datum.s == 'PT1_UNP' || datum.s == 'PT2_agros')"}],
     "mark": {"type": "bar", "color": "#000000", "width": {"band": 1.24}},
     "encoding": {
      "x": {"field": "s", "type": "nominal", "sort": ["PC_agros","PC_salix","PC_UNP","PT1_agros","PT1_salix","PT1_UNP","PT2_agros","PT2_salix","PT2_UNP","Ref","UNT"], "scale": {"type": "band", "paddingInner": 0.14, "paddingOuter": 0.035}, "title": null},
      "y": {"datum": 0.2683, "type": "quantitative"}, "y2": {"datum": 0.2735}}},
    {"transform": [{"filter": "datum.t == 'Others' && datum.s == 'PT1_UNP'"}],
     "mark": {"type": "rule", "color": "#000000", "strokeWidth": 8},
     "encoding": {
      "x": {"field": "s", "type": "nominal", "bandPosition": -0.14, "sort": ["PC_agros","PC_salix","PC_UNP","PT1_agros","PT1_salix","PT1_UNP","PT2_agros","PT2_salix","PT2_UNP","Ref","UNT"], "scale": {"type": "band", "paddingInner": 0.14, "paddingOuter": 0.035}, "title": null},
      "y": {"datum": 0.2683, "type": "quantitative"}, "y2": {"datum": 0.3090}}},
    {"transform": [{"filter": "datum.t == 'Others' && datum.s == 'PT2_UNP'"}],
     "mark": {"type": "rule", "color": "#000000", "strokeWidth": 8},
     "encoding": {
      "x": {"field": "s", "type": "nominal", "bandPosition": 0.971, "sort": ["PC_agros","PC_salix","PC_UNP","PT1_agros","PT1_salix","PT1_UNP","PT2_agros","PT2_salix","PT2_UNP","Ref","UNT"], "scale": {"type": "band", "paddingInner": 0.14, "paddingOuter": 0.035}, "title": null},
      "y": {"datum": 0.2683, "type": "quantitative"}, "y2": {"datum": 0.3090}}}
   ]
  }
 },
 {
  "width": 643,
  "height": 1022,
  "data": {"values": [{"a": 1}]},
  "view": {"stroke": null, "fill": null},
  "layer": [
   {"mark": {"type": "rect", "color": "#DA5F1C"},
    "encoding": {
     "x": {"datum": 0, "type": "quantitative", "scale": {"domain": [0, 1], "nice": false, "zero": false}, "axis": null},
     "x2": {"datum": 1},
     "y": {"datum": 0.2065, "type": "quantitative", "scale": {"domain": [0, 1], "nice": false, "zero": false, "reverse": true}, "axis": null},
     "y2": {"datum": 0.2549}}},
   {"mark": {"type": "text", "font": "Open Sans", "fontSize": 35.2, "color": "#FFF6E8", "align": "center", "baseline": "middle"},
    "encoding": {
     "x": {"datum": 0.493, "type": "quantitative"},
     "y": {"datum": 0.2307, "type": "quantitative"},
     "text": {"value": "PHYTOMANAGEMENT IN SOUTHWEST"}}},
   {"mark": {"type": "text", "font": "Lato", "fontWeight": "bold", "fontSize": 77, "color": "#0070C0", "align": "left", "baseline": "alphabetic"},
    "encoding": {
     "x": {"datum": 0.529, "type": "quantitative"},
     "y": {"datum": 0.1106, "type": "quantitative"},
     "text": {"value": "Family le"}}},
   {"mark": {"type": "rect", "fill": "transparent", "stroke": "#000000", "strokeWidth": 7},
    "encoding": {
     "x": {"datum": 0, "type": "quantitative"}, "x2": {"datum": 0.3919},
     "y": {"datum": 0.4281, "type": "quantitative"}, "y2": {"datum": 0.4711}}},
   {"mark": {"type": "rect", "fill": "transparent", "stroke": "#000000", "strokeWidth": 7},
    "encoding": {
     "x": {"datum": 0, "type": "quantitative"}, "x2": {"datum": 0.3919},
     "y": {"datum": 0.9545, "type": "quantitative"}, "y2": {"datum": 0.9976}}}
  ]
 }
]
}
